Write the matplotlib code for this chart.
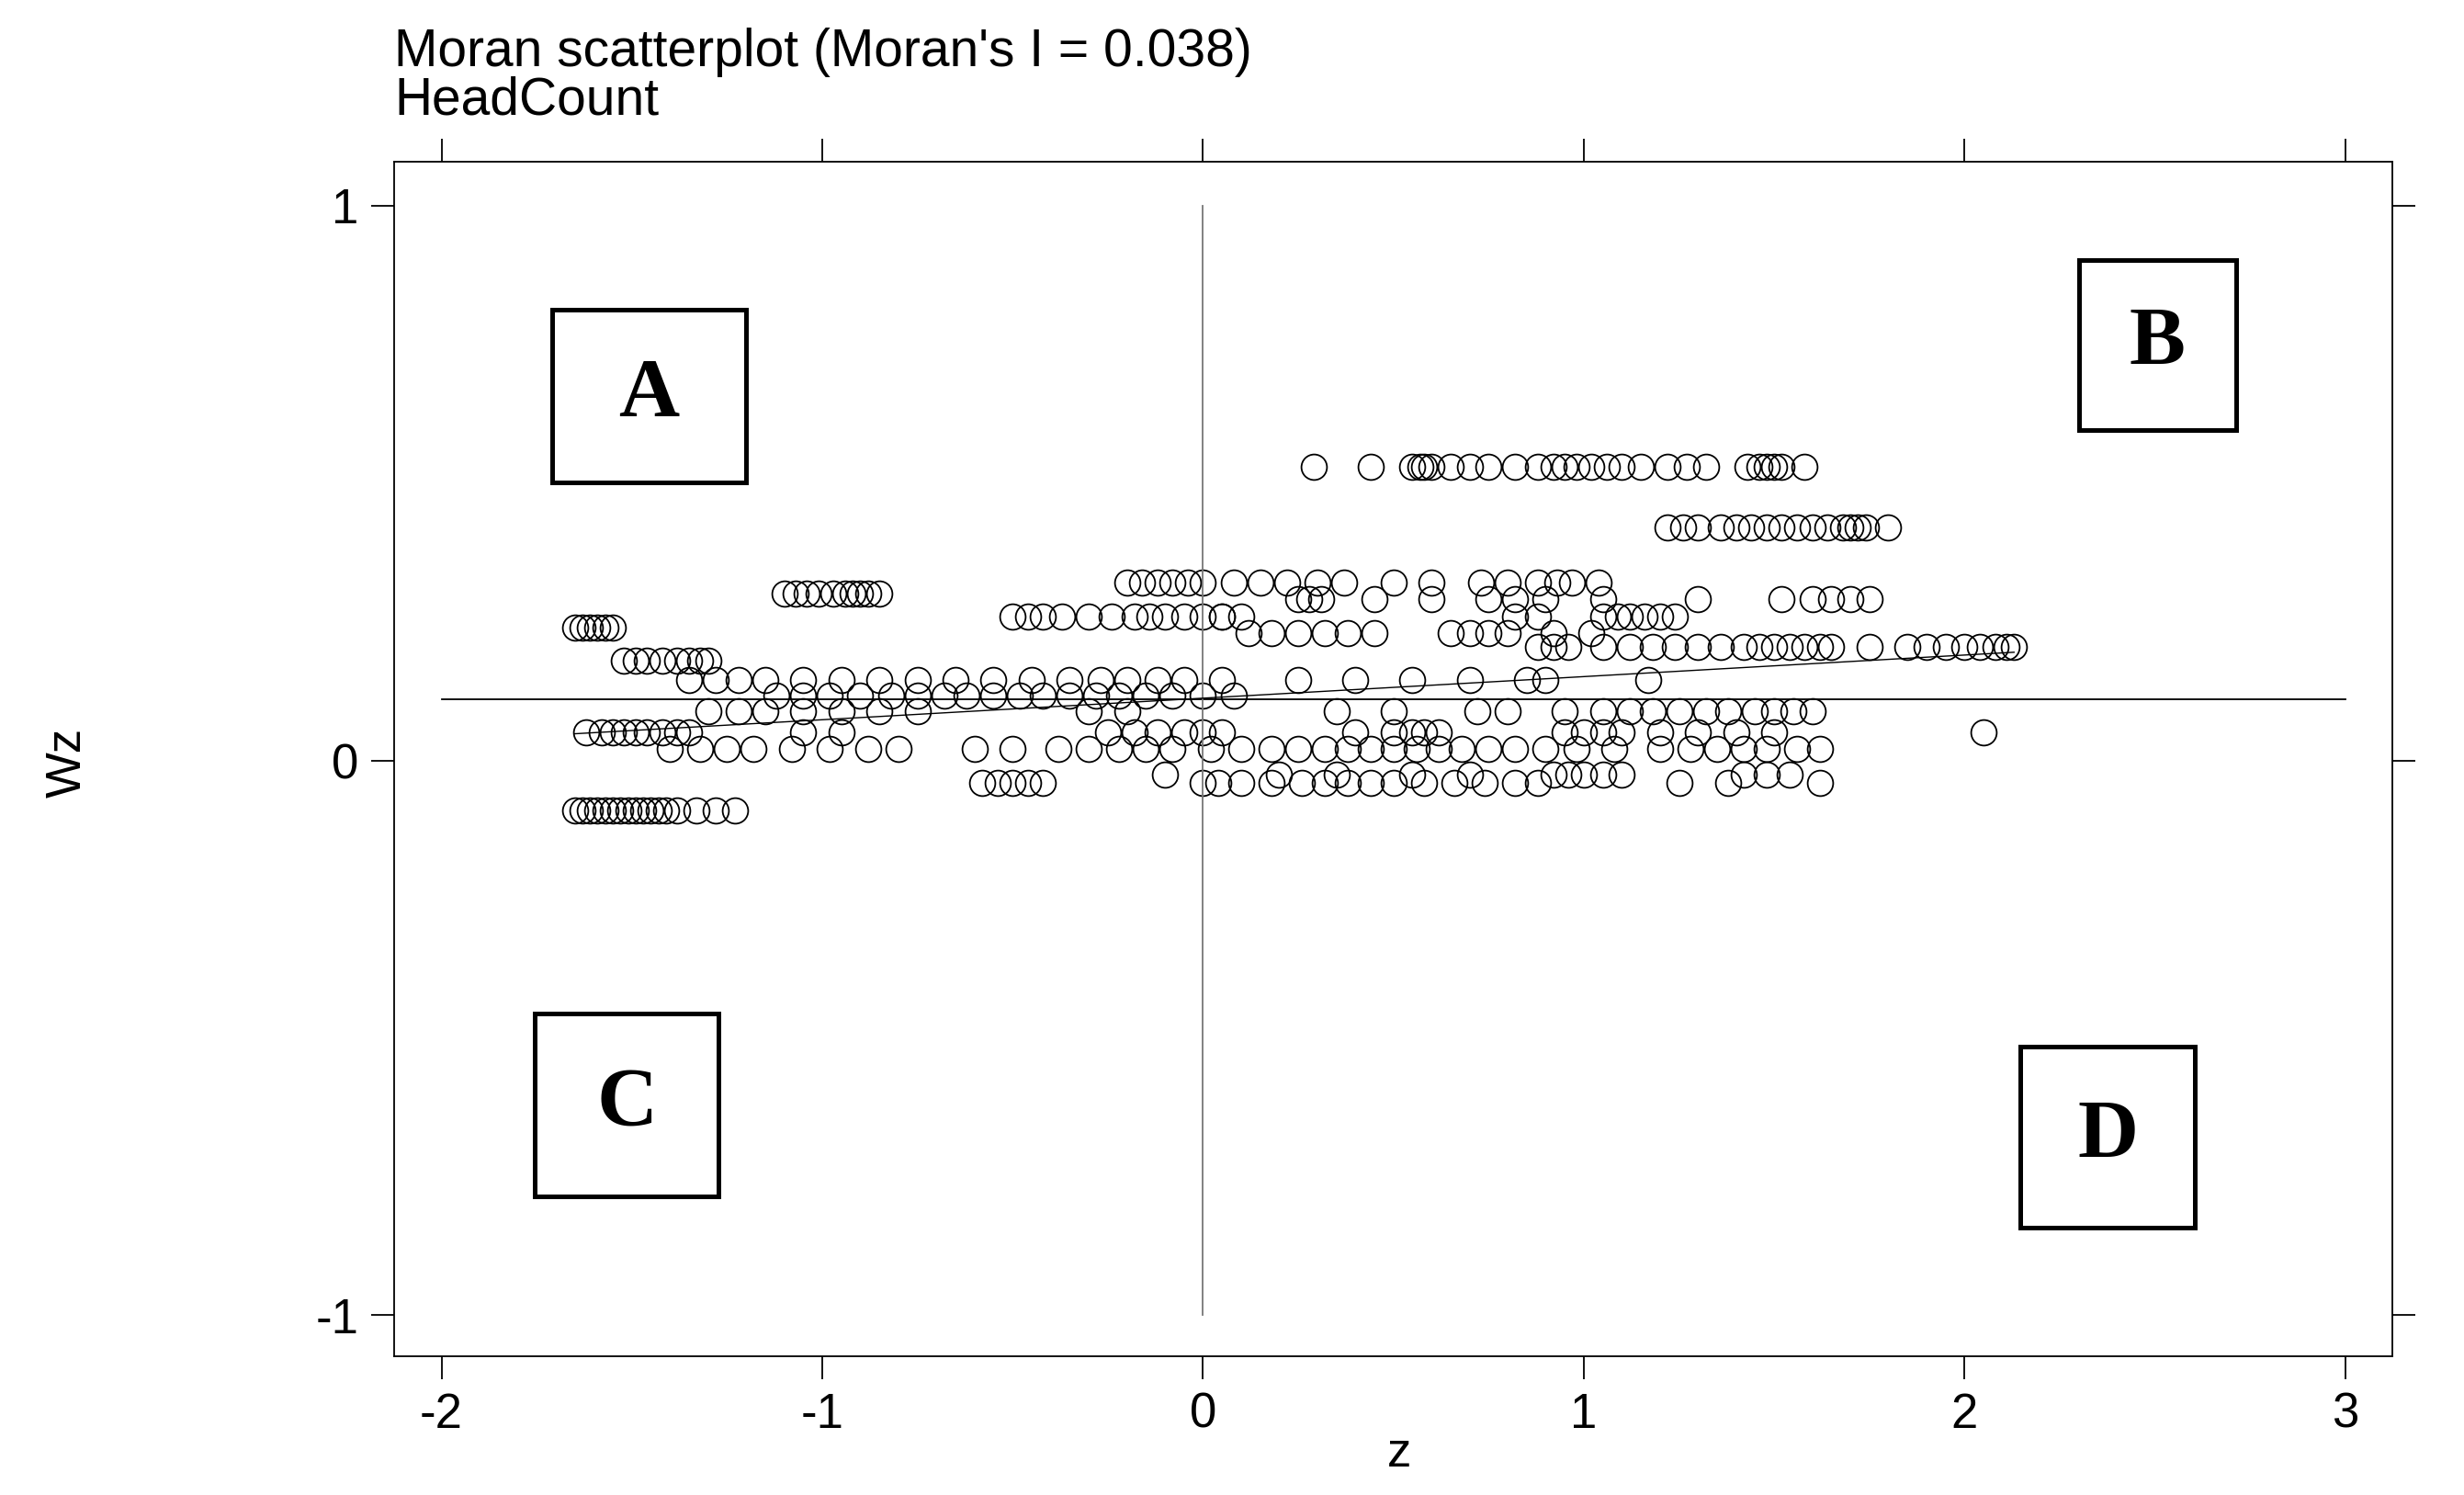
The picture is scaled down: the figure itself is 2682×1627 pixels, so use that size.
import matplotlib.pyplot as plt
from matplotlib.patches import Rectangle

plt.rcParams['font.family'] = ['Liberation Sans', 'DejaVu Sans']
plt.rcParams['axes.unicode_minus'] = False

# points grouped by Wz level (z values)
y053 = 0.53
x053 = [0.29, 0.44, 0.55, 0.57, 0.58, 0.60, 0.65, 0.70, 0.75, 0.82, 0.88, 0.92, 0.95,
        0.98, 1.02, 1.06, 1.10, 1.15, 1.22, 1.27, 1.32, 1.43, 1.46, 1.48, 1.50, 1.52, 1.58]
y042 = 0.42
x042 = [1.22, 1.26, 1.30, 1.36, 1.40, 1.44, 1.48, 1.52, 1.56, 1.60, 1.64, 1.68, 1.70,
        1.72, 1.74, 1.80]
y030 = 0.30
x030 = [-1.10, -1.07, -1.04, -1.01, -0.97, -0.94, -0.92, -0.90, -0.88, -0.85]
y032 = 0.32
x032 = [-0.20, -0.16, -0.12, -0.08, -0.04, 0.0, 0.08, 0.15, 0.22, 0.30, 0.37, 0.50,
        0.60, 0.73, 0.80, 0.88, 0.93, 0.97, 1.04]
y029 = 0.29
x029 = [0.25, 0.28, 0.31, 0.45, 0.60, 0.75, 0.82, 0.90, 1.05, 1.30, 1.52, 1.60,
        1.65, 1.70, 1.75]
y026 = 0.26
x026 = [-0.50, -0.46, -0.42, -0.37, -0.30, -0.24, -0.18, -0.14, -0.10, -0.05, 0.0,
        0.05, 0.10, 0.05, 0.82, 0.88, 1.05, 1.09, 1.12, 1.16, 1.20, 1.24]
y024 = 0.24
x024 = [-1.65, -1.63, -1.61, -1.59, -1.57, -1.55]
y023 = 0.23
x023 = [0.12, 0.18, 0.25, 0.32, 0.38, 0.45, 0.65, 0.70, 0.75, 0.80, 0.92, 1.02]
y020 = 0.205
x020 = [0.88, 0.92, 0.96, 1.05, 1.12, 1.18, 1.24, 1.30, 1.36, 1.42, 1.46, 1.50,
        1.54, 1.58, 1.62, 1.65, 1.75, 1.85, 1.90, 1.95, 2.00, 2.04, 2.08, 2.11, 2.13]
y018 = 0.18
x018 = [-1.52, -1.49, -1.46, -1.42, -1.38, -1.35, -1.32, -1.30]
y014 = 0.145
x014 = [-1.35, -1.28, -1.22, -1.15, -1.05, -0.95, -0.85, -0.75, -0.65, -0.55, -0.45,
        -0.35, -0.27, -0.20, -0.12, -0.05, 0.05, 0.25, 0.40, 0.55, 0.70, 0.85,
        0.90, 1.17]
y012 = 0.117
x012 = [-1.12, -1.05, -0.98, -0.90, -0.82, -0.75, -0.68, -0.62, -0.55, -0.48, -0.42,
        -0.35, -0.28, -0.22, -0.15, -0.08, 0.0, 0.08]
y009 = 0.088
x009 = [-1.30, -1.22, -1.15, -1.05, -0.95, -0.85, -0.75, -0.30, -0.20, 0.35, 0.50,
        0.72, 0.80, 0.95, 1.05, 1.12, 1.18, 1.25, 1.32, 1.38, 1.45, 1.50, 1.55, 1.60]
y005 = 0.05
x005 = [-1.62, -1.58, -1.55, -1.52, -1.49, -1.46, -1.42, -1.38, -1.35, -1.05, -0.95,
        -0.25, -0.18, -0.12, -0.05, 0.0, 0.05, 0.40, 0.50, 0.55, 0.58, 0.62, 0.95,
        1.0, 1.05, 1.10, 1.20, 1.30, 1.40, 1.50, 2.05]
y002 = 0.02
x002 = [-1.40, -1.32, -1.25, -1.18, -1.08, -0.98, -0.88, -0.80, -0.60, -0.50, -0.38,
        -0.30, -0.22, -0.15, -0.08, 0.02, 0.10, 0.18, 0.25, 0.32, 0.38, 0.44, 0.50,
        0.56, 0.62, 0.68, 0.75, 0.82, 0.90, 0.98, 1.08, 1.20, 1.28, 1.35, 1.42,
        1.48, 1.56, 1.62]
ym003 = -0.025
xm003 = [-0.10, 0.20, 0.35, 0.55, 0.70, 0.92, 0.96, 1.00, 1.05, 1.10, 1.42, 1.48,
         1.54]
ym004 = -0.04
xm004 = [-0.58, -0.54, -0.50, -0.46, -0.42, 0.0, 0.04, 0.10, 0.18, 0.26, 0.32, 0.38,
         0.44, 0.50, 0.58, 0.66, 0.74, 0.82, 0.88, 1.25, 1.38, 1.62]
ym009 = -0.09
xm009 = [-1.65, -1.63, -1.61, -1.59, -1.57, -1.55, -1.53, -1.51, -1.49, -1.47, -1.45,
         -1.43, -1.41, -1.38, -1.33, -1.28, -1.23]

groups = [(y053, x053), (y042, x042), (y030, x030), (y032, x032), (y029, x029),
          (y026, x026), (y024, x024), (y023, x023), (y020, x020), (y018, x018),
          (y014, x014), (y012, x012), (y009, x009), (y005, x005), (y002, x002),
          (ym003, xm003), (ym004, xm004), (ym009, xm009)]

mean_wz = 0.11
fit_x = [-1.65, 2.13]
fit_y = [0.048, 0.195]

# quadrant labels: (letter, x0, y0, x1, y1)
boxes = [("A", -1.709, 0.501, -1.201, 0.812),
         ("B", 2.30, 0.595, 2.713, 0.903),
         ("C", -1.755, -0.786, -1.272, -0.456),
         ("D", 2.147, -0.843, 2.605, -0.516)]

fig = plt.figure(figsize=(26.82, 16.27), dpi=100)
ax = fig.add_axes([0.160, 0.093, 0.811, 0.799])

for wz, zs in groups:
    ax.plot(zs, [wz] * len(zs), 'o', ms=20, mfc='none', mec='black', mew=1.3)

ax.plot([-2, 3], [mean_wz, mean_wz], color='black', lw=1.3)
ax.plot([0, 0], [-1, 1], color='#777777', lw=1.3)
ax.plot(fit_x, fit_y, color='black', lw=1.0)

for lab, x0, y0, x1, y1 in boxes:
    ax.add_patch(Rectangle((x0, y0), x1 - x0, y1 - y0, fill=False, lw=3.6,
                           edgecolor='black'))
    ax.text((x0 + x1) / 2, (y0 + y1) / 2, lab, ha='center', va='center',
            fontsize=66, fontweight='bold', family='Liberation Serif')

ax.set_xlim(-2.124, 3.124)
ax.set_ylim(-1.074, 1.08)
ax.set_xticks([-2, -1, 0, 1, 2, 3])
ax.set_yticks([-1, 0, 1])
ax.tick_params(direction='out', length=18, width=1.3, labelsize=38,
               top=True, right=True, labeltop=False, labelright=False, pad=10)
for s in ax.spines.values():
    s.set_linewidth(1.3)

fig.text(0.018, 0.49, "Wz", rotation=90, fontsize=38, ha='left', va='center')
fig.text(0.568, 0.012, "z", fontsize=38, ha='center', va='bottom')
fig.text(0.160, 0.965, "Moran scatterplot (Moran's I = 0.038)", fontsize=41,
         ha='left', va='center')
fig.text(0.160, 0.933, "HeadCount", fontsize=41, ha='left', va='center')

fig.savefig("out.png", dpi=100, facecolor='white')
